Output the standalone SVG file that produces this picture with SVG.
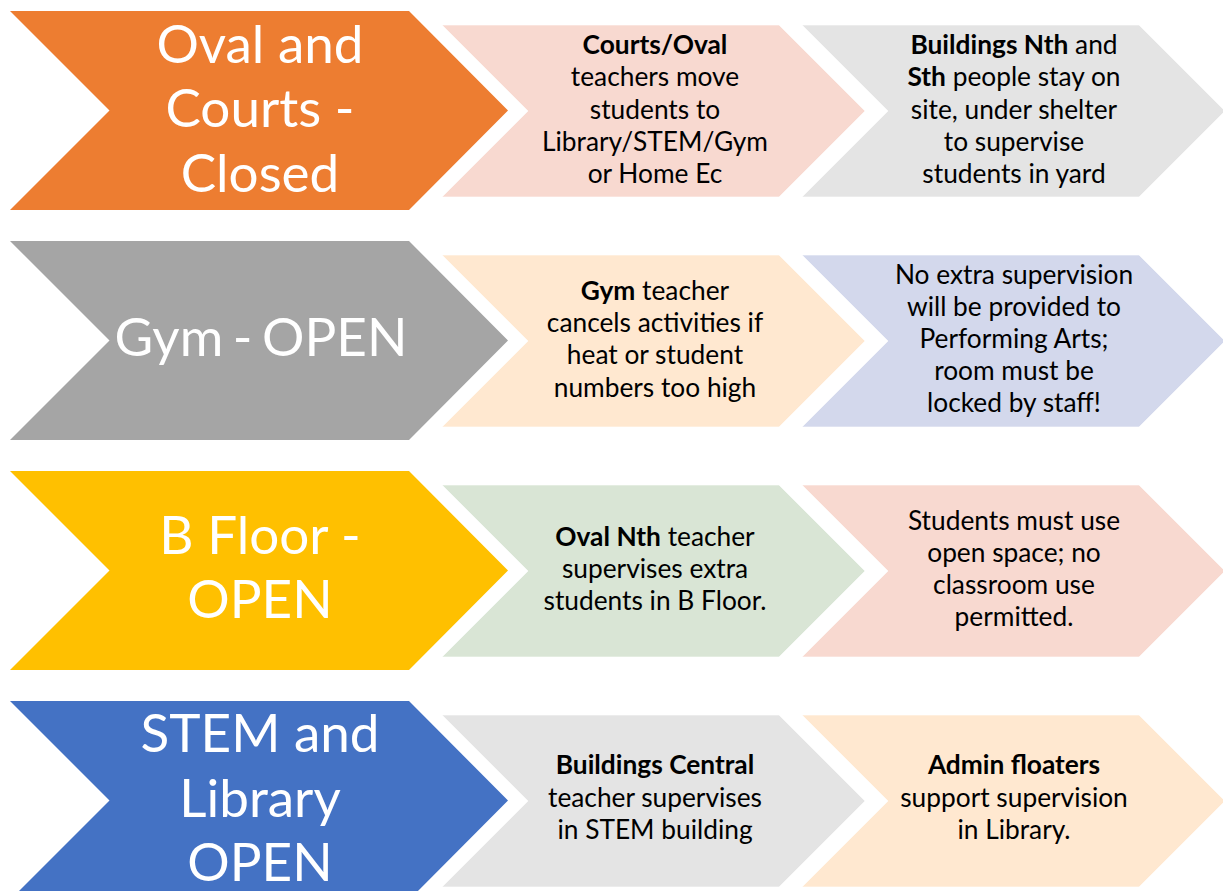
<svg xmlns="http://www.w3.org/2000/svg" width="1223" height="891" viewBox="0 0 1223 891">
<defs>
<style>
.big{font-family:Lato,"Liberation Sans",sans-serif;font-size:53px;fill:#ffffff;text-anchor:middle}
.gym{word-spacing:-4px}
.sm{font-family:Lato,"Liberation Sans",sans-serif;font-size:26.3px;fill:#000000;text-anchor:middle}
.b{font-weight:bold}
.edge{stroke:#ffffff;stroke-width:1;stroke-opacity:0.6}
</style>
<polygon id="bigShape" points="10,0 409,0 508,99.5 409,199 10,199 109.5,99.5"/>
<polygon id="smShape" points="0,0 337,0 423,86 337,172 0,172 86,86"/>
</defs>
<rect width="1223" height="891" fill="#ffffff"/>
<g id="connectors"></g>

<!-- Row 1 -->
<g id="row1-main"><use href="#bigShape" y="11" fill="#ED7D31"/>
<text class="big"><tspan x="260" y="62.5">Oval and</tspan><tspan x="260" y="127">Courts -</tspan><tspan x="260" y="191.5">Closed</tspan></text></g>
<g id="row1-step1"><use href="#smShape" x="442" y="25" fill="#F8D9D0" class="edge"/>
<text class="sm"><tspan x="655" y="54" class="b">Courts/Oval</tspan><tspan x="655" y="86">teachers move</tspan><tspan x="655" y="118.5">students to</tspan><tspan x="655" y="150.5">Library/STEM/Gym</tspan><tspan x="655" y="182.5">or Home Ec</tspan></text></g>
<g id="row1-step2"><use href="#smShape" x="802" y="25" fill="#E4E4E4" class="edge"/>
<text class="sm"><tspan x="1014" y="54"><tspan class="b">Buildings Nth</tspan> and</tspan><tspan x="1014" y="86"><tspan class="b">Sth</tspan> people stay on</tspan><tspan x="1014" y="118.5">site, under shelter</tspan><tspan x="1014" y="150.5">to supervise</tspan><tspan x="1014" y="182.5">students in yard</tspan></text></g>

<!-- Row 2 -->
<g id="row2-main"><use href="#bigShape" y="241" fill="#A5A5A5"/>
<text class="big gym"><tspan x="261" y="355.5">Gym - OPEN</tspan></text></g>
<g id="row2-step1"><use href="#smShape" x="442" y="255" fill="#FFE8D0" class="edge"/>
<text class="sm"><tspan x="655" y="300"><tspan class="b">Gym</tspan> teacher</tspan><tspan x="655" y="332">cancels activities if</tspan><tspan x="655" y="364">heat or student</tspan><tspan x="655" y="396.5">numbers too high</tspan></text></g>
<g id="row2-step2"><use href="#smShape" x="802" y="255" fill="#D3D8EC" class="edge"/>
<text class="sm"><tspan x="1014" y="284">No extra supervision</tspan><tspan x="1014" y="316">will be provided to</tspan><tspan x="1014" y="348">Performing Arts;</tspan><tspan x="1014" y="380">room must be</tspan><tspan x="1014" y="412">locked by staff!</tspan></text></g>

<!-- Row 3 -->
<g id="row3-main"><use href="#bigShape" y="471" fill="#FFC000"/>
<text class="big"><tspan x="260" y="554">B Floor -</tspan><tspan x="260" y="618">OPEN</tspan></text></g>
<g id="row3-step1"><use href="#smShape" x="442" y="485" fill="#D9E5D5" class="edge"/>
<text class="sm"><tspan x="655" y="546"><tspan class="b">Oval Nth</tspan> teacher</tspan><tspan x="655" y="578">supervises extra</tspan><tspan x="655" y="610">students in B Floor.</tspan></text></g>
<g id="row3-step2"><use href="#smShape" x="802" y="485" fill="#F8D9D0" class="edge"/>
<text class="sm"><tspan x="1014" y="530">Students must use</tspan><tspan x="1014" y="562">open space; no</tspan><tspan x="1014" y="593.5">classroom use</tspan><tspan x="1014" y="626">permitted.</tspan></text></g>

<!-- Row 4 -->
<g id="row4-main"><use href="#bigShape" y="701" fill="#4472C4"/>
<text class="big"><tspan x="260" y="752">STEM and</tspan><tspan x="260" y="816.5">Library</tspan><tspan x="260" y="880.5">OPEN</tspan></text></g>
<g id="row4-step1"><use href="#smShape" x="442" y="715" fill="#E4E4E4" class="edge"/>
<text class="sm"><tspan x="655" y="774" class="b">Buildings Central</tspan><tspan x="655" y="806.5">teacher supervises</tspan><tspan x="655" y="838.5">in STEM building</tspan></text></g>
<g id="row4-step2"><use href="#smShape" x="802" y="715" fill="#FFE8D0" class="edge"/>
<text class="sm"><tspan x="1014" y="774" class="b">Admin floaters</tspan><tspan x="1014" y="806.5">support supervision</tspan><tspan x="1014" y="838.5">in Library.</tspan></text></g>
</svg>
